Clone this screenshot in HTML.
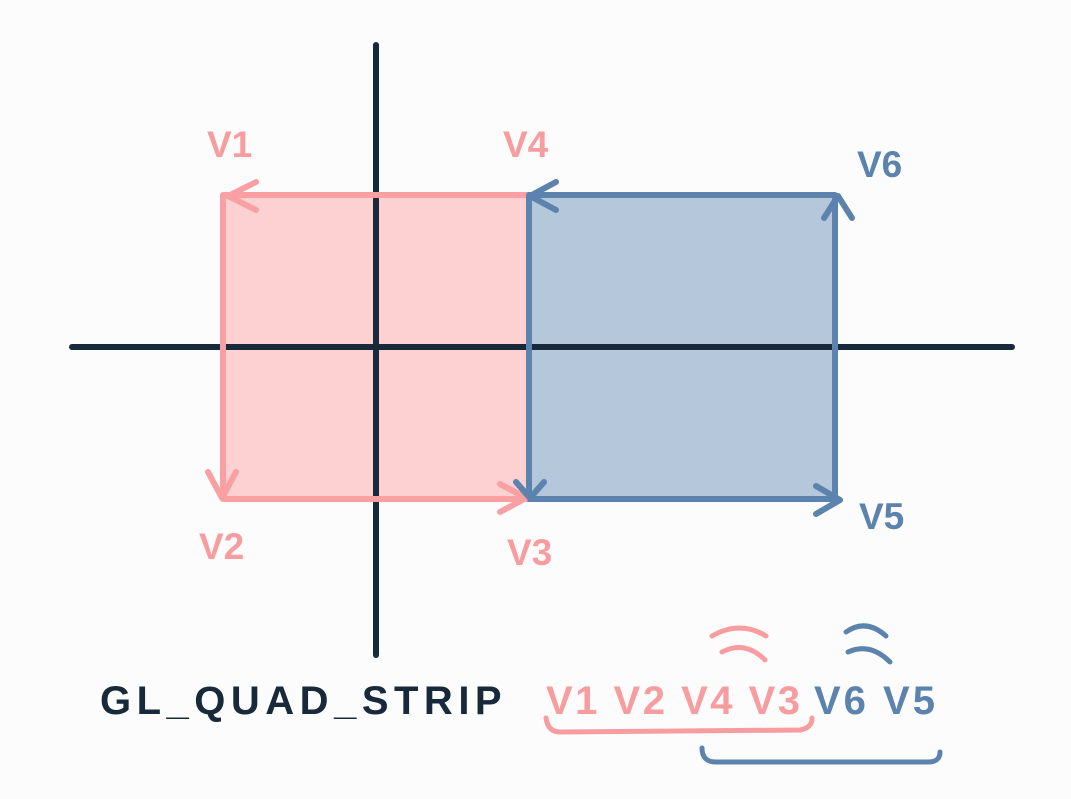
<!DOCTYPE html>
<html>
<head>
<meta charset="utf-8">
<style>
html,body{margin:0;padding:0;background:#fcfcfc;}
svg{display:block;}
text{font-family:"Liberation Sans",sans-serif;}
</style>
</head>
<body>
<svg id="chart" width="1071" height="799" viewBox="0 0 1071 799" xmlns="http://www.w3.org/2000/svg">
<rect x="0" y="0" width="1071" height="799" fill="#fcfcfc"/>
<g id="quads"></g>
<line x1="376" y1="45" x2="376" y2="655" stroke="#17293a" stroke-width="6" stroke-linecap="round"/>
<line x1="72" y1="347" x2="1012" y2="347" stroke="#17293a" stroke-width="6" stroke-linecap="round"/>
<g id="edges"></g>
<g id="arrows" fill="none" stroke-width="6" stroke-linecap="round" stroke-linejoin="round">
  <path d="M256 182 L228 196 L256 210" stroke="#f9a0a3"/>
  <path d="M208 472 L222 498 L236 472" stroke="#f9a0a3"/>
  <path d="M500 484 L526 498 L500 512" stroke="#f9a0a3"/>
  <path d="M556 182 L530 196 L556 210" stroke="#5b83ad"/>
  <path d="M516 482 L530 498 L544 482" stroke="#5b83ad"/>
  <path d="M816 486 L840 500 L816 514" stroke="#5b83ad"/>
  <path d="M824 218 L838 196 L852 218" stroke="#5b83ad"/>
</g>
<g id="labels"></g>
<text x="100" y="714" font-size="40" font-weight="bold" fill="#17293a" letter-spacing="5.5">GL_QUAD_STRIP</text>
<text x="546" y="714" font-size="40" font-weight="bold" fill="#f79da0" letter-spacing="2.5">V1 V2 V4 V3</text>
<text x="814" y="714" font-size="40" font-weight="bold" fill="#5b83ad" letter-spacing="3">V6 V5</text>
<path d="M712 636 Q740 620 766 636 M722 652 Q745 640 765 660" fill="none" stroke="#f79da0" stroke-width="5" stroke-linecap="round"/>
<path d="M846 632 Q866 618 886 636 M848 652 Q870 642 890 662" fill="none" stroke="#5b83ad" stroke-width="5" stroke-linecap="round"/>
<path d="M546 718 Q548 732 560 732 L800 730 Q812 728 812 718" fill="none" stroke="#f79da0" stroke-width="5" stroke-linecap="round"/>
<path d="M702 748 Q702 762 716 762 L928 762 Q940 762 940 752" fill="none" stroke="#5b83ad" stroke-width="5" stroke-linecap="round"/>
</svg>
<script>
// vertex positions in data units (origin at axes crossing)
const vertexNames = ["V1","V2","V3","V4","V5","V6"];
const vertexX = [-1,-1,1,1,3,3];
const vertexY = [1,-1,-1,1,-1,1];
const quadA = [0,1,2,3];
const quadB = [3,2,4,5];

const ox=376, oy=347, unitX=153, unitY=152;
const sx = v => ox + v*unitX;
const sy = v => oy - v*unitY;
const NS="http://www.w3.org/2000/svg";
const quads=document.getElementById('quads');
const edges=document.getElementById('edges');
const labels=document.getElementById('labels');

function poly(idx, fill, stroke, name){
  const p=document.createElementNS(NS,'polygon');
  p.setAttribute('points', idx.map(i=>sx(vertexX[i])+','+sy(vertexY[i])).join(' '));
  p.setAttribute('fill', fill);
  
  
  quads.appendChild(p);
  const e=document.createElementNS(NS,'polygon');
  e.setAttribute('points', idx.map(i=>sx(vertexX[i])+','+sy(vertexY[i])).join(' '));
  e.setAttribute('fill','none');
  e.setAttribute('stroke',stroke);
  e.setAttribute('stroke-width','6');
  e.setAttribute('stroke-linejoin','round');
  
  
  edges.appendChild(e);
}
poly(quadA,'#fdd0d2','#f9a0a3','quad-pink');
poly(quadB,'#b4c7db','#5b83ad','quad-blue');

const labelOff = {V1:[-16,-38],V2:[-24,60],V3:[-22,66],V4:[-26,-38],V5:[24,30],V6:[22,-18]};
vertexNames.forEach((n,i)=>{
  const t=document.createElementNS(NS,'text');
  const o=labelOff[n];
  t.setAttribute('x', sx(vertexX[i])+o[0]);
  t.setAttribute('y', sy(vertexY[i])+o[1]);
  t.setAttribute('font-size','37');
  t.setAttribute('font-weight','bold');
  t.setAttribute('fill', vertexX[i]>=3 ? '#5b83ad' : '#f79da0');
  t.textContent=n;
  
  
  labels.appendChild(t);
});
</script>
</body>
</html>
